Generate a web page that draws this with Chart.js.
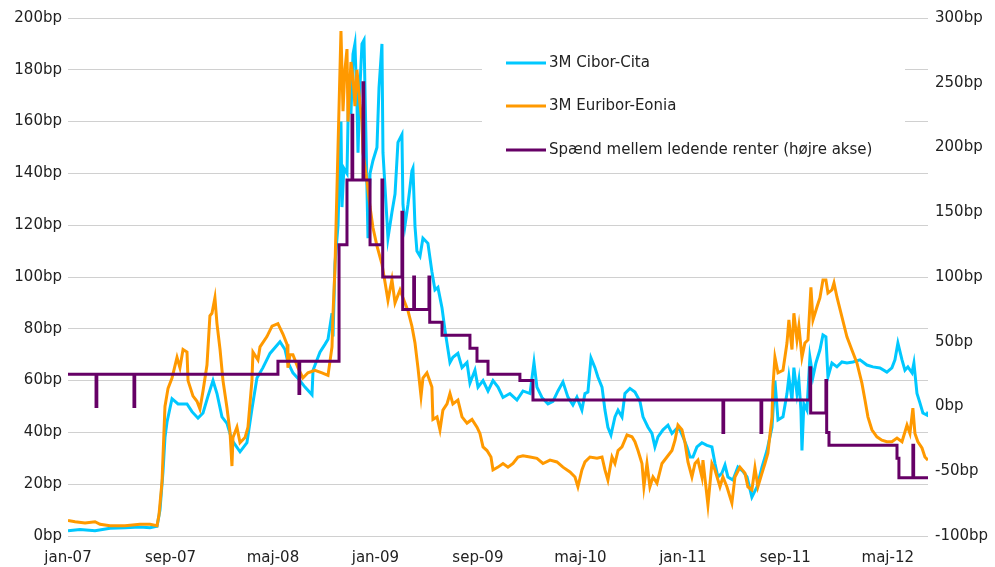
<!DOCTYPE html>
<html>
<head>
<meta charset="utf-8">
<script src="https://cdn.jsdelivr.net/npm/chart.js@4.4.1/dist/chart.umd.min.js"></script>
<style>
    body { margin: 0; background: #fff; }
    #wrap { width: 995px; height: 567px; }
</style>
</head>
<body>
<div id="wrap"><canvas id="spreadChart" width="995" height="567"></canvas></div>
<script>
// x values are months since jan-07, y values in basis points
const tickMonths = [0, 8, 16, 24, 32, 40, 48, 56, 64];
const tickLabels = ['jan-07', 'sep-07', 'maj-08', 'jan-09', 'sep-09', 'maj-10', 'jan-11', 'sep-11', 'maj-12'];
const lastMonth = 67.14;

const seriesNames = ['3M Cibor-Cita', '3M Euribor-Eonia', 'Spænd mellem ledende renter (højre akse)'];
const seriesColors = ['#00c8ff', '#ff9900', '#660066'];

// 3M Cibor-Cita, [month, bp]
const cibor = [
    [0, 2], [0.94, 2.5], [2.11, 2], [3.28, 3], [4.45, 3.2], [5.62, 3.5], [6.40, 3.2], [6.95, 3.8],
    [7.18, 10], [7.42, 25], [7.57, 38], [7.73, 44], [8.12, 53], [8.59, 51], [9.29, 51], [9.68, 48],
    [10.15, 45.5], [10.54, 47.5], [10.93, 54], [11.32, 60], [11.63, 55], [12.02, 46], [12.41, 43.5],
    [12.80, 37], [13.43, 32.5], [13.97, 36], [14.36, 49], [14.75, 61], [15.22, 65], [15.77, 70.5],
    [16.55, 75], [16.94, 72], [17.17, 67], [17.56, 63], [18.11, 60], [18.50, 57.5], [19.05, 54.5],
    [19.13, 64], [19.67, 71], [20.06, 74], [20.30, 76], [20.61, 86], [20.69, 77], [20.84, 105],
    [21.08, 120], [21.31, 160], [21.39, 127], [21.54, 142], [21.78, 140], [21.93, 177], [22.09, 163],
    [22.25, 186], [22.40, 190], [22.56, 167], [22.64, 148], [22.79, 173], [22.95, 190], [23.11, 191.5],
    [23.26, 154], [23.42, 115], [23.58, 140], [23.81, 145], [24.12, 150], [24.28, 173], [24.51, 190],
    [24.59, 148], [24.90, 122], [24.98, 115], [25.29, 125], [25.53, 132], [25.76, 152], [26.07, 155],
    [26.15, 128], [26.31, 120], [26.54, 128], [26.85, 141], [26.93, 142], [27.09, 119.5], [27.24, 110],
    [27.48, 108], [27.71, 115], [28.10, 113], [28.41, 102], [28.65, 95], [28.88, 96], [29.20, 88],
    [29.43, 79.5], [29.82, 67], [30.05, 69], [30.44, 70.5], [30.76, 65], [31.15, 67], [31.38, 59],
    [31.77, 64], [32.01, 57.5], [32.40, 60], [32.79, 56], [33.18, 60], [33.57, 57.5], [33.96, 53.5],
    [34.50, 55], [35.05, 52.5], [35.52, 56], [36.07, 55], [36.38, 67], [36.61, 57.5], [37.00, 53.5],
    [37.47, 51], [37.86, 52], [38.25, 56], [38.64, 59.5], [39.03, 53.6], [39.42, 50.6], [39.73, 53.6],
    [40.12, 48.6], [40.36, 55], [40.59, 55.6], [40.83, 68.7], [41.14, 65], [41.37, 61.4], [41.69, 57.5],
    [41.92, 48.6], [42.15, 42], [42.39, 39], [42.70, 46], [42.94, 48.6], [43.25, 46], [43.48, 55],
    [43.87, 57], [44.26, 55.6], [44.65, 52], [44.89, 46], [45.28, 42], [45.59, 39.6], [45.82, 34.4],
    [46.06, 38.3], [46.45, 41], [46.84, 42.8], [47.15, 39.6], [47.54, 41.6], [47.78, 41], [48.01, 38.3],
    [48.32, 34.4], [48.56, 30.5], [48.79, 30.5], [49.10, 34.4], [49.49, 36], [49.88, 35], [50.27, 34.4],
    [50.51, 28], [50.74, 22.8], [51.05, 24.3], [51.29, 27.4], [51.52, 22.8], [51.91, 21.6], [52.30, 26.6],
    [52.69, 25], [53.01, 22.8], [53.39, 15], [53.79, 19], [54.18, 26.6], [54.57, 33], [54.96, 42],
    [55.19, 60], [55.43, 44.8], [55.82, 46], [56.13, 55], [56.28, 61.4], [56.52, 52.5], [56.67, 65],
    [56.91, 55], [57.06, 60], [57.22, 48.6], [57.30, 33], [57.45, 51], [57.69, 48.6], [57.92, 69],
    [58.16, 61.4], [58.39, 66.8], [58.70, 71.8], [58.94, 77.6], [59.17, 76.9], [59.33, 61.4], [59.64, 66.8],
    [60.03, 65.3], [60.42, 67.2], [60.81, 66.8], [61.28, 67.2], [61.83, 68], [62.37, 66], [62.84, 65.3],
    [63.39, 64.9], [63.93, 63.3], [64.32, 64.9], [64.56, 68], [64.79, 74.5], [65.11, 68], [65.34, 64],
    [65.57, 65.3], [65.89, 63], [66.04, 66.8], [66.28, 55], [66.51, 51.4], [66.74, 47.5], [67.06, 46.7],
    [67.14, 48]
];

// 3M Euribor-Eonia, [month, bp]
const euribor = [
    [0, 6], [0.55, 5.5], [1.33, 5], [2.11, 5.5], [2.50, 4.5], [3.28, 4], [4.45, 4], [5.62, 4.5],
    [6.40, 4.5], [6.95, 4], [7.10, 8], [7.34, 21], [7.57, 50], [7.81, 57], [8.12, 61], [8.51, 69],
    [8.74, 65], [8.98, 72], [9.29, 71], [9.37, 60], [9.76, 54], [10.07, 52], [10.30, 49], [10.54, 56],
    [10.85, 66], [11.08, 85], [11.24, 86], [11.47, 92], [11.63, 82], [11.87, 72], [12.10, 60],
    [12.41, 49.5], [12.65, 40], [12.80, 27], [12.88, 38], [13.19, 42], [13.43, 36], [13.82, 38],
    [14.05, 42], [14.36, 60], [14.44, 71], [14.83, 68], [14.99, 73], [15.53, 77], [15.93, 81],
    [16.39, 82], [16.78, 78], [17.10, 74], [17.17, 65], [17.33, 70], [17.56, 70], [17.95, 65],
    [18.34, 61], [18.73, 63], [19.28, 64], [19.83, 63], [20.30, 62], [20.61, 73], [20.69, 86],
    [20.84, 103], [21.08, 150], [21.31, 195], [21.47, 164], [21.62, 180], [21.78, 188], [21.86, 160],
    [22.09, 183], [22.25, 177], [22.40, 166], [22.56, 180], [22.79, 167], [22.95, 160], [23.03, 148],
    [23.34, 137], [23.58, 127], [23.81, 119], [24.12, 112], [24.51, 105], [24.75, 98], [24.98, 91],
    [25.29, 99], [25.53, 90], [25.92, 95], [26.15, 92], [26.54, 87], [26.85, 81], [27.09, 74.5],
    [27.32, 65], [27.56, 54], [27.71, 61], [28.02, 63], [28.41, 57.5], [28.49, 45], [28.81, 46],
    [29.04, 41], [29.27, 48.6], [29.59, 51], [29.82, 55], [30.05, 51], [30.44, 52.5], [30.76, 46],
    [31.15, 43.6], [31.54, 45], [31.93, 42], [32.16, 39.6], [32.40, 34.4], [32.71, 33], [33.02, 30.5],
    [33.18, 25.5], [33.57, 26.6], [33.96, 28], [34.35, 26.6], [34.74, 28], [35.13, 30.5], [35.52, 31],
    [36.07, 30.5], [36.61, 30], [37.08, 28], [37.63, 29.3], [38.17, 28.6], [38.64, 26.6], [39.19, 24.7],
    [39.58, 22.8], [39.81, 19], [40.12, 25.5], [40.36, 28.6], [40.75, 30.5], [41.30, 30], [41.69, 30.5],
    [41.92, 25.5], [42.15, 21.6], [42.47, 30.5], [42.70, 28], [42.94, 33], [43.25, 34.4], [43.64, 39],
    [44.03, 38.3], [44.26, 36.4], [44.50, 33], [44.81, 28], [44.96, 19], [45.20, 28], [45.43, 19],
    [45.67, 22.8], [45.98, 20.4], [46.37, 28], [46.76, 30.5], [47.15, 33], [47.39, 37], [47.62, 42.8],
    [47.93, 41], [48.17, 36], [48.40, 28.6], [48.71, 22.8], [48.95, 28], [49.18, 29.3], [49.49, 22.8],
    [49.57, 29.3], [49.96, 12], [50.27, 28], [50.51, 25.5], [50.90, 19], [51.13, 22.8], [51.44, 19],
    [51.83, 12.7], [52.07, 22.8], [52.46, 26.6], [52.85, 24.3], [53.08, 19], [53.39, 17.8], [53.63, 26.3],
    [53.86, 19], [54.18, 24.3], [54.41, 28], [54.64, 32], [54.96, 46], [55.03, 57.5], [55.19, 69],
    [55.43, 63], [55.82, 64], [56.13, 74.5], [56.28, 83.4], [56.52, 72], [56.67, 86], [56.91, 75.7],
    [57.06, 81], [57.30, 69], [57.53, 74.5], [57.77, 75.7], [58.00, 96], [58.16, 83.4], [58.47, 88.4],
    [58.70, 91.9], [58.94, 98.8], [59.17, 98.8], [59.33, 93.8], [59.64, 95], [59.80, 97.7], [60.03, 92.3],
    [60.42, 84.6], [60.81, 76.9], [61.20, 71.8], [61.59, 66.8], [61.98, 59], [62.22, 52.5], [62.45, 46],
    [62.76, 41], [63.15, 38.3], [63.54, 37], [63.93, 36.4], [64.32, 36.4], [64.72, 37.8], [65.11, 36.4],
    [65.50, 42.8], [65.73, 39.6], [65.96, 49.4], [66.12, 39.6], [66.35, 36.4], [66.67, 34], [66.90, 30.5],
    [67.14, 29.3]
];

// Spread between leading policy rates (right axis), [month, bp], drawn as steps
const policySpread = [
    [0, 25], [2.19, 0], [2.25, 25], [5.15, 0], [5.21, 25], [16.39, 35], [18.03, 10], [18.09, 35],
    [21.16, 125], [21.78, 175], [22.17, 225], [22.23, 175], [23.03, 250], [23.09, 175], [23.58, 125],
    [24.51, 175], [24.57, 100], [26.07, 150], [26.13, 75], [26.99, 100], [27.05, 75], [28.18, 100],
    [28.24, 65], [29.20, 55], [31.38, 45], [31.93, 35], [32.79, 25], [35.28, 20], [36.30, 5],
    [51.13, -20], [51.19, 5], [54.10, -20], [54.16, 5], [57.92, 30], [57.98, -5], [59.17, 20],
    [59.23, -20], [59.41, -30], [64.72, -40], [64.87, -55], [65.96, -30], [66.02, -55], [67.14, -55]
];

const FONT = { family: '"DejaVu Sans", Verdana, sans-serif', size: 15 };
const TEXT_COLOR = '#222';

const toPoints = rows => rows.map(r => ({ x: r[0], y: r[1] }));

// White legend box inside the plot, like the original
const legendBox = {
    id: 'legendBox',
    beforeDatasetsDraw(chart) {
        const ctx = chart.ctx;
        const rows = [63, 106, 150];
        ctx.save();
        ctx.fillStyle = '#ffffff';
        ctx.fillRect(482, 30, 423, 138);
        ctx.font = FONT.size + 'px ' + FONT.family;
        ctx.textBaseline = 'middle';
        ctx.textAlign = 'left';
        chart.data.datasets.forEach((ds, i) => {
            ctx.strokeStyle = ds.borderColor;
            ctx.lineWidth = 3;
            ctx.beginPath();
            ctx.moveTo(506, rows[i]);
            ctx.lineTo(546, rows[i]);
            ctx.stroke();
            ctx.fillStyle = TEXT_COLOR;
            ctx.fillText(ds.label, 549, rows[i]);
        });
        ctx.restore();
    }
};

const ctx = document.getElementById('spreadChart').getContext('2d');
new Chart(ctx, {
    type: 'line',
    data: {
        datasets: [{
            label: seriesNames[0],
            data: toPoints(cibor),
            borderColor: seriesColors[0],
            borderWidth: 3,
            pointRadius: 0,
            yAxisID: 'y',
            order: 3
        }, {
            label: seriesNames[1],
            data: toPoints(euribor),
            borderColor: seriesColors[1],
            borderWidth: 3,
            pointRadius: 0,
            yAxisID: 'y',
            order: 2
        }, {
            label: seriesNames[2],
            data: toPoints(policySpread),
            borderColor: seriesColors[2],
            borderWidth: 3,
            pointRadius: 0,
            stepped: 'before',
            yAxisID: 'y2',
            order: 1
        }]
    },
    options: {
        responsive: false,
        animation: false,
        layout: { padding: { top: 18, left: 0, right: 0, bottom: 0 } },
        plugins: {
            legend: { display: false },
            tooltip: { enabled: false }
        },
        scales: {
            x: {
                type: 'linear',
                min: 0,
                max: lastMonth,
                grid: { display: false },
                border: { display: false },
                afterBuildTicks: scale => {
                    scale.ticks = tickMonths.map(v => ({ value: v }));
                },
                afterFit: scale => { scale.height = 31; },
                ticks: {
                    autoSkip: false,
                    maxRotation: 0,
                    padding: 5,
                    color: TEXT_COLOR,
                    font: FONT,
                    callback: v => tickLabels[tickMonths.indexOf(v)]
                }
            },
            y: {
                position: 'left',
                min: 0,
                max: 200,
                grid: { color: '#d0d0d0', lineWidth: 1, drawTicks: false },
                border: { display: false },
                afterFit: scale => { scale.width = 68; },
                ticks: {
                    stepSize: 20,
                    padding: 6,
                    color: TEXT_COLOR,
                    font: FONT,
                    callback: v => v + 'bp'
                }
            },
            y2: {
                position: 'right',
                min: -100,
                max: 300,
                grid: { drawOnChartArea: false, drawTicks: false },
                border: { display: false },
                afterFit: scale => { scale.width = 67; },
                ticks: {
                    stepSize: 50,
                    padding: 7,
                    color: TEXT_COLOR,
                    font: FONT,
                    callback: v => v + 'bp'
                }
            }
        }
    },
    plugins: [legendBox]
});
</script>
</body>
</html>
